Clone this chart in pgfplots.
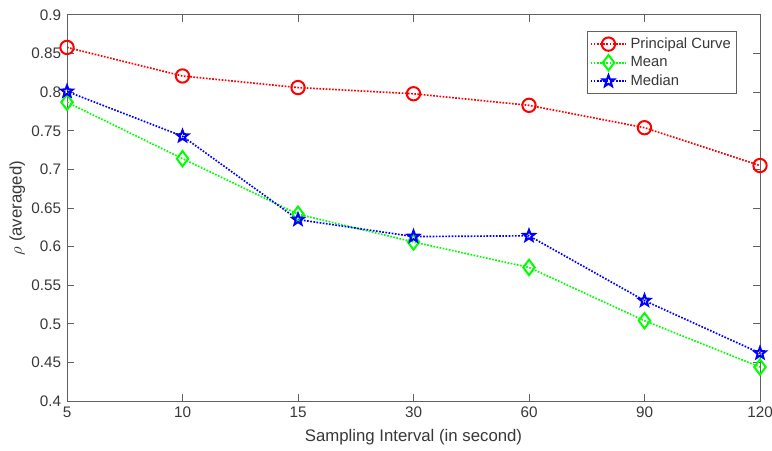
\documentclass[border=0pt]{standalone}
\usepackage{fontspec}
\setmainfont{Liberation Sans}
\usepackage{pgfplots}
\pgfplotsset{compat=1.18}
\definecolor{axgray}{gray}{0.38}
\definecolor{txtgray}{gray}{0.22}

\pgfdeclareplotmark{pentagram}{%
  \pgfpathmoveto{\pgfpointpolar{90}{\pgfplotmarksize}}%
  \pgfpathlineto{\pgfpointpolar{126}{0.42\pgfplotmarksize}}%
  \pgfpathlineto{\pgfpointpolar{162}{\pgfplotmarksize}}%
  \pgfpathlineto{\pgfpointpolar{198}{0.42\pgfplotmarksize}}%
  \pgfpathlineto{\pgfpointpolar{234}{\pgfplotmarksize}}%
  \pgfpathlineto{\pgfpointpolar{270}{0.42\pgfplotmarksize}}%
  \pgfpathlineto{\pgfpointpolar{306}{\pgfplotmarksize}}%
  \pgfpathlineto{\pgfpointpolar{342}{0.42\pgfplotmarksize}}%
  \pgfpathlineto{\pgfpointpolar{18}{\pgfplotmarksize}}%
  \pgfpathlineto{\pgfpointpolar{54}{0.42\pgfplotmarksize}}%
  \pgfpathclose
  \pgfusepathqstroke
}

\begin{document}
\begin{tikzpicture}
\begin{axis}[
    scale only axis,
    width=415.8bp,
    height=231.6bp,
    xmin=0, xmax=6,
    ymin=0.4, ymax=0.9,
    xtick={0,1,2,3,4,5,6},
    xticklabels={5,10,15,30,60,90,120},
    ytick={0.4,0.45,...,0.9},
    yticklabel style={/pgf/number format/fixed, /pgf/number format/precision=2},
    /pgf/number format/assume math mode=true,
    tick align=inside,
    major tick length=4bp,
    axis line style={draw=axgray, line width=0.6bp},
    every tick/.style={draw=axgray, line width=0.6bp},
    tick label style={font=\fontsize{9.2}{11}\selectfont, text=txtgray},
    label style={font=\fontsize{10.1}{12}\selectfont, text=txtgray},
    xlabel={Sampling Interval (in second)},
    ylabel={$\rho$ (averaged)},
    xlabel style={yshift=0bp},
    ylabel style={yshift=-3bp},
    legend style={at={(0.967,0.958)}, anchor=north east, draw=axgray,
        line width=0.6bp, font=\fontsize{8.9}{11}\selectfont, text=txtgray,
        row sep=-0.6bp, inner xsep=1.5bp, inner ysep=1.5bp,
        nodes={inner xsep=2bp}},
    legend cell align=left,
    legend image code/.code={%
        \draw[mark repeat=2, mark phase=2] plot coordinates {(0cm,0cm) (0.38cm,0cm) (0.76cm,0cm)};},
    every axis plot/.append style={line width=1bp, dash pattern=on 1bp off 0.9bp, mark size=4bp},
]
\addplot[color=red, mark=o, mark options={solid, line width=1.2bp}] coordinates {
    (0,0.858) (1,0.821) (2,0.806) (3,0.798) (4,0.783) (5,0.754) (6,0.705)
};
\addlegendentry{Principal Curve}
\addplot[color=green, mark=diamond, mark size=4.6bp, mark options={solid, line width=1.2bp}] coordinates {
    (0,0.787) (1,0.714) (2,0.642) (3,0.606) (4,0.573) (5,0.504) (6,0.444)
};
\addlegendentry{Mean}
\addplot[color=blue, mark=pentagram, mark size=3.6bp, mark options={solid, line width=1.2bp}] coordinates {
    (0,0.801) (1,0.743) (2,0.635) (3,0.613) (4,0.614) (5,0.530) (6,0.462)
};
\addlegendentry{Median}
\end{axis}
\pgfresetboundingbox
\path ([xshift=-40.2bp,yshift=-29.4bp]current axis.south west) rectangle ([xshift=7.2bp,yshift=9bp]current axis.north east);
\end{tikzpicture}
\end{document}
